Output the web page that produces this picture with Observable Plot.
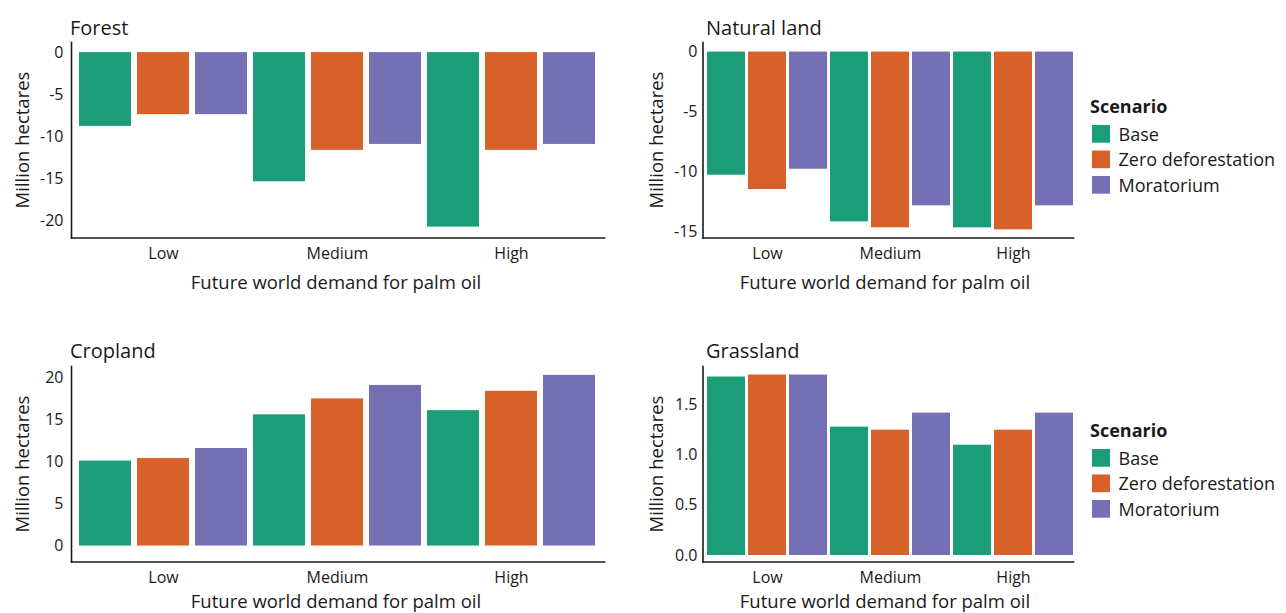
<!DOCTYPE html>
<html>
<head>
<meta charset="utf-8">
<script src="https://cdn.jsdelivr.net/npm/d3@7"></script>
<script src="https://cdn.jsdelivr.net/npm/@observablehq/plot@0.6"></script>
<style>
html, body { margin: 0; padding: 0; background: #fff; }
#root { position: relative; width: 1286px; height: 613px; overflow: hidden; font-family: "Open Sans", sans-serif; color: #1a1a1a; }
.panel { position: absolute; }
.panel svg { display: block; }
#overlay { position: absolute; left: 0; top: 0; pointer-events: none; }
</style>
</head>
<body>
<div id="root"></div>
<script>
// ---- data ----
const demand = ["Low", "Medium", "High"];
const scenarios = ["Base", "Zero deforestation", "Moratorium"];
const colors = ["#1b9e77", "#d8612a", "#7570b3"];

const forestBase = [-8.8, -15.4, -20.8];
const forestZero = [-7.4, -11.65, -11.65];
const forestMora = [-7.4, -10.95, -10.95];
const forestTicks = [0, -5, -10, -15, -20];

const naturalBase = [-10.3, -14.2, -14.7];
const naturalZero = [-11.5, -14.7, -14.87];
const naturalMora = [-9.8, -12.86, -12.86];
const naturalTicks = [0, -5, -10, -15];

const cropBase = [10.1, 15.6, 16.1];
const cropZero = [10.4, 17.5, 18.4];
const cropMora = [11.6, 19.1, 20.3];
const cropTicks = [0, 5, 10, 15, 20];

const grassBase = [1.78, 1.28, 1.10];
const grassZero = [1.80, 1.25, 1.25];
const grassMora = [1.80, 1.42, 1.42];
const grassTicks = [0, 0.5, 1.0, 1.5];

const panelTitles = ["Forest", "Natural land", "Cropland", "Grassland"];
const yTitle = "Million hectares";
const xTitle = "Future world demand for palm oil";
const legendTitle = "Scenario";

// ---- helpers ----
const keyOf = (d, s) => d + "|" + s;
const keys = demand.flatMap(d => scenarios.map(s => keyOf(d, s)));
const midKeys = demand.map(d => keyOf(d, scenarios[1]));

function rows(base, zero, mora) {
  const series = [base, zero, mora];
  return demand.flatMap((d, i) => scenarios.map((s, j) => ({key: keyOf(d, s), demand: d, scenario: s, value: series[j][i]})));
}

const root = document.getElementById("root");

function panel(cfg) {
  const height = 300;
  const plot = Plot.plot({
    width: cfg.width,
    height,
    marginTop: 42,
    marginBottom: height - 237.5,
    marginLeft: cfg.mL,
    marginRight: cfg.mR,
    style: {fontFamily: "'Open Sans', sans-serif", fontSize: "16px", color: "#1a1a1a", background: "transparent", overflow: "visible"},
    x: {domain: keys, paddingInner: cfg.pi, paddingOuter: cfg.po, align: cfg.align, ticks: midKeys,
        tickFormat: k => k.split("|")[0], tickSize: 0, tickPadding: 10, label: null},
    y: {domain: cfg.domain, ticks: cfg.ticks, tickFormat: cfg.fmt, tickSize: 0, tickPadding: cfg.tp, label: null},
    color: {domain: scenarios, range: colors},
    marks: [
      Plot.barY(cfg.data, {x: "key", y: "value", fill: "scenario"}),
      Plot.frame({anchor: "left", stroke: "#1a1a1a", strokeWidth: 1.6}),
      Plot.frame({anchor: "bottom", stroke: "#1a1a1a", strokeWidth: 1.6})
    ]
  });
  const div = document.createElement("div");
  div.className = "panel";
  div.style.left = cfg.left + "px";
  div.style.top = cfg.top + "px";
  div.appendChild(plot);
  root.appendChild(div);
}

const leftCfg = {left: 0, width: 640, mL: 71, mR: 36, pi: 0.1, po: 0.14, align: 0.5, tp: 8};
const rightCfg = {left: 640, width: 646, mL: 62.5, mR: 213, pi: 0.075, po: 0.055, align: 1, tp: 5.5};
const intFmt = d => String(d);
const decFmt = d3.format(".1f");

panel({...leftCfg, top: 0, data: rows(forestBase, forestZero, forestMora), domain: [-22.1, 1.2], ticks: forestTicks, fmt: intFmt});
panel({...rightCfg, top: 0, data: rows(naturalBase, naturalZero, naturalMora), domain: [-15.55, 0.8], ticks: naturalTicks, fmt: intFmt});
panel({...leftCfg, top: 324, data: rows(cropBase, cropZero, cropMora), domain: [-1.9, 21.35], ticks: cropTicks, fmt: intFmt});
panel({...rightCfg, top: 324, data: rows(grassBase, grassZero, grassMora), domain: [-0.065, 1.885], ticks: grassTicks, fmt: decFmt});

// ---- text overlay: titles, axis titles, legends ----
const svg = d3.select(root).append("svg").attr("id", "overlay")
  .attr("width", 1286).attr("height", 613)
  .style("font-family", "'Open Sans', sans-serif").attr("fill", "#1a1a1a");

const panelsPos = [
  {tx: 70, ty: 34.5, yx: 29.3, yy: 140, xx: 336, xy: 289.4},
  {tx: 706, ty: 34.5, yx: 662.7, yy: 140, xx: 885, xy: 289.4},
  {tx: 70, ty: 358, yx: 29.3, yy: 464, xx: 336, xy: 608},
  {tx: 706, ty: 358, yx: 662.7, yy: 464, xx: 885, xy: 608}
];
panelsPos.forEach((p, i) => {
  svg.append("text").attr("x", p.tx).attr("y", p.ty).attr("font-size", 20).text(panelTitles[i]);
  svg.append("text").attr("transform", `translate(${p.yx},${p.yy}) rotate(-90)`)
    .attr("text-anchor", "middle").attr("font-size", 18.5).text(yTitle);
  svg.append("text").attr("x", p.xx).attr("y", p.xy).attr("text-anchor", "middle")
    .attr("font-size", 18.5).text(xTitle);
});

[0, 324].forEach(off => {
  const g = svg.append("g").attr("transform", `translate(0,${off})`);
  g.append("text").attr("x", 1090).attr("y", 113).attr("font-size", 18).attr("font-weight", 700).text(legendTitle);
  scenarios.forEach((s, i) => {
    g.append("rect").attr("x", 1092).attr("y", 125 + i * 25.5).attr("width", 18).attr("height", 17.7).attr("fill", colors[i]);
    g.append("text").attr("x", 1118.5).attr("y", 140.7 + i * 25.5).attr("font-size", 18).text(s);
  });
});
</script>
</body>
</html>
